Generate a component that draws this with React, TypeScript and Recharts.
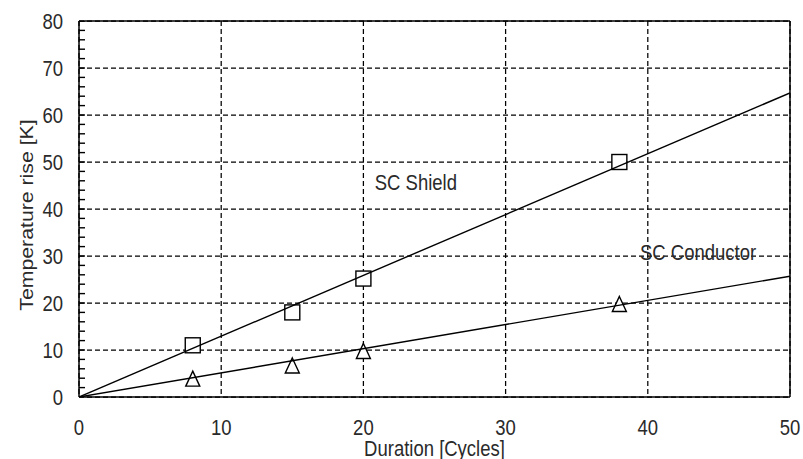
import React from 'react';
import {
  ComposedChart,
  XAxis,
  YAxis,
  CartesianGrid,
  Scatter,
  ReferenceLine,
} from 'recharts';

// ---- data ----
const xTicks = [0, 10, 20, 30, 40, 50];
const yTicks = [0, 10, 20, 30, 40, 50, 60, 70, 80];
const yMinorTicks = [
  2, 4, 6, 8, 12, 14, 16, 18, 22, 24, 26, 28, 32, 34, 36, 38,
  42, 44, 46, 48, 52, 54, 56, 58, 62, 64, 66, 68, 72, 74, 76, 78,
];

const shieldPoints = [
  { x: 8, y: 11 },
  { x: 15, y: 18 },
  { x: 20, y: 25.2 },
  { x: 38, y: 50 },
];
const conductorPoints = [
  { x: 8, y: 3.9 },
  { x: 15, y: 6.7 },
  { x: 20, y: 9.8 },
  { x: 38, y: 19.8 },
];
const shieldFit = [
  { x: 0, y: 0 },
  { x: 50, y: 64.7 },
];
const conductorFit = [
  { x: 0, y: 0 },
  { x: 50, y: 25.7 },
];
const seriesLabels = [
  { x: 20.8, y: 44, text: 'SC Shield' },
  { x: 39.45, y: 29.1, text: 'SC Conductor' },
];

const xLabel = 'Duration [Cycles]';
const yLabel = 'Temperature rise [K]';

// ---- styles ----
const FONT = '"Liberation Sans", Arial, sans-serif';
const FS = 18.5;
const SY = 1.15;
const TEXT = '#2a2a2a';

const XTick = (props: any) => {
  const { x, y, payload } = props;
  return (
    <text
      transform={`translate(${x},${y + 38}) scale(1,${SY})`}
      textAnchor="middle"
      fontFamily={FONT}
      fontSize={FS}
      fill={TEXT}
    >
      {payload.value}
    </text>
  );
};

const YTick = (props: any) => {
  const { x, y, payload } = props;
  return (
    <text
      transform={`translate(${x - 16},${y + 7.5}) scale(1,${SY})`}
      textAnchor="end"
      fontFamily={FONT}
      fontSize={FS}
      fill={TEXT}
    >
      {payload.value}
    </text>
  );
};

// minor tick mark drawn as a scatter shape on the left edge of the plot
const MinorTickMark = (props: any) => {
  const { cx, cy } = props;
  return (
    <rect x={cx} y={cy - 0.7} width={6} height={1.4} fill="#000" stroke="none" />
  );
};

const XLabel = (props: any) => {
  const vb = props.viewBox || { x: 0, y: 0, width: 0, height: 0 };
  return (
    <text
      transform={`translate(${vb.x + vb.width / 2},${vb.y + 59}) scale(1,${SY})`}
      textAnchor="middle"
      fontFamily={FONT}
      fontSize={FS}
      fill={TEXT}
    >
      {xLabel}
    </text>
  );
};

const YLabel = (props: any) => {
  const vb = props.viewBox || { x: 0, y: 0, width: 0, height: 0 };
  return (
    <text
      transform={`translate(${vb.x + 33},${vb.y + vb.height / 2 + 6}) rotate(-90) scale(${SY},1)`}
      textAnchor="middle"
      fontFamily={FONT}
      fontSize={FS}
      fill={TEXT}
    >
      {yLabel}
    </text>
  );
};

const SquareMark = (props: any) => {
  const { cx, cy } = props;
  const s = 15;
  return (
    <rect
      x={cx - s / 2}
      y={cy - s / 2}
      width={s}
      height={s}
      fill="#fff"
      stroke="#000"
      strokeWidth={1.4}
    />
  );
};

const TriangleMark = (props: any) => {
  const { cx, cy } = props;
  const w = 14;
  const h = 15;
  const pts = `${cx},${cy - h / 2} ${cx + w / 2},${cy + h / 2} ${cx - w / 2},${cy + h / 2}`;
  return <polygon points={pts} fill="#fff" stroke="#000" strokeWidth={1.4} />;
};

const NoMark = () => <g />;

const TextMark = (props: any) => {
  const { cx, cy, payload } = props;
  return (
    <text
      transform={`translate(${cx},${cy}) scale(1,${SY})`}
      textAnchor="start"
      fontFamily={FONT}
      fontSize={FS}
      fill={TEXT}
    >
      {payload.text}
    </text>
  );
};

const minorTickPoints = [...yTicks, ...yMinorTicks].map((v) => ({ x: 0, y: v }));

export default function App() {
  return (
    <div
      style={{
        position: 'absolute',
        left: 0,
        top: 0,
        width: 803,
        height: 459,
        background: '#fff',
      }}
    >
      <ComposedChart
        width={803}
        height={459}
        margin={{ top: 21, right: 13, left: 0, bottom: 0 }}
      >
        <CartesianGrid
          stroke="#000"
          strokeWidth={1.25}
          strokeDasharray="5 3"
        />
        <XAxis
          type="number"
          dataKey="x"
          domain={[0, 50]}
          ticks={xTicks}
          interval={0}
          height={62}
          tickLine={false}
          tickSize={0}
          tickMargin={0}
          axisLine={{ stroke: '#000', strokeWidth: 1.5 }}
          tick={<XTick />}
          label={{ content: <XLabel /> }}
          allowDataOverflow
        />
        <YAxis
          type="number"
          dataKey="y"
          domain={[0, 80]}
          ticks={yTicks}
          interval={0}
          width={79}
          tickLine={false}
          tickSize={0}
          tickMargin={0}
          axisLine={{ stroke: '#000', strokeWidth: 1.5 }}
          tick={<YTick />}
          label={{ content: <YLabel /> }}
          allowDataOverflow
        />
        <ReferenceLine y={80} stroke="#000" strokeWidth={1.5} />
        <ReferenceLine x={50} stroke="#000" strokeWidth={1.5} />

        <Scatter
          data={minorTickPoints}
          dataKey="y"
          shape={<MinorTickMark />}
          isAnimationActive={false}
        />
        <Scatter
          data={shieldPoints}
          dataKey="y"
          shape={<SquareMark />}
          isAnimationActive={false}
        />
        <Scatter
          data={conductorPoints}
          dataKey="y"
          shape={<TriangleMark />}
          isAnimationActive={false}
        />
        <Scatter
          data={shieldFit}
          dataKey="y"
          shape={<NoMark />}
          line={{ stroke: '#000', strokeWidth: 1.4 }}
          isAnimationActive={false}
        />
        <Scatter
          data={conductorFit}
          dataKey="y"
          shape={<NoMark />}
          line={{ stroke: '#000', strokeWidth: 1.4 }}
          isAnimationActive={false}
        />
        <Scatter
          data={seriesLabels}
          dataKey="y"
          shape={<TextMark />}
          isAnimationActive={false}
        />
      </ComposedChart>
    </div>
  );
}
